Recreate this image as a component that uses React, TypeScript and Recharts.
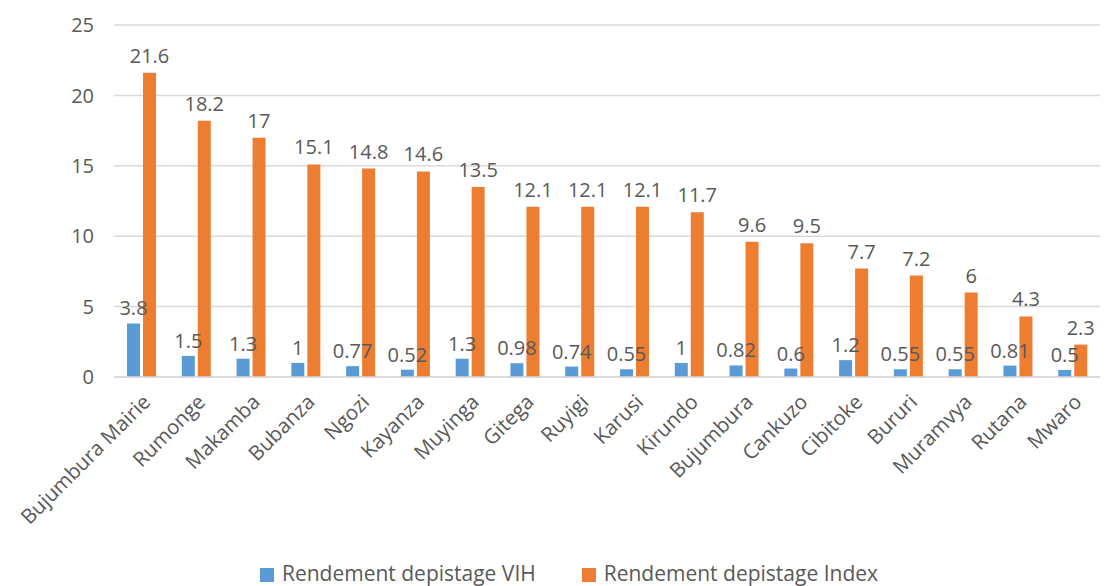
import { BarChart, Bar, XAxis, YAxis, CartesianGrid, Legend, LabelList } from "recharts";

const PROVINCES = [
  "Bujumbura Mairie", "Rumonge", "Makamba", "Bubanza", "Ngozi", "Kayanza",
  "Muyinga", "Gitega", "Ruyigi", "Karusi", "Kirundo", "Bujumbura",
  "Cankuzo", "Cibitoke", "Bururi", "Muramvya", "Rutana", "Mwaro",
];
const VIH = [3.8, 1.5, 1.3, 1, 0.77, 0.52, 1.3, 0.98, 0.74, 0.55, 1, 0.82, 0.6, 1.2, 0.55, 0.55, 0.81, 0.5];
const INDEX = [21.6, 18.2, 17, 15.1, 14.8, 14.6, 13.5, 12.1, 12.1, 12.1, 11.7, 9.6, 9.5, 7.7, 7.2, 6, 4.3, 2.3];
const Y_TICKS = [0, 5, 10, 15, 20, 25];

const data = PROVINCES.map((name, i) => ({ name, vih: VIH[i], index: INDEX[i] }));

const FONT = "'Open Sans', sans-serif";
const TEXT = "#595959";
const GRID = "#d9d9d9";

const labelStyle = { fill: TEXT, fontSize: 20, fontFamily: FONT };

export default function App() {
  return (
    <div style={{ position: "absolute", left: 0, top: 0, background: "#fff" }}>
      <BarChart
        width={1107}
        height={586}
        data={data}
        margin={{ top: 25, right: 7, bottom: 0, left: 0 }}
        barSize={13}
        barGap={3}
      >
        <CartesianGrid stroke={GRID} strokeWidth={1.5} vertical={false} />
        <XAxis
          dataKey="name"
          interval={0}
          angle={-45}
          textAnchor="end"
          height={179}
          tickLine={false}
          axisLine={{ stroke: GRID, strokeWidth: 1.5 }}
          tick={{ fill: TEXT, fontSize: 20.5, fontFamily: FONT }}
          tickMargin={10}
        />
        <YAxis
          domain={[0, 25]}
          ticks={Y_TICKS}
          width={114}
          axisLine={false}
          tickLine={false}
          tickMargin={14}
          tick={{ fill: TEXT, fontSize: 20, fontFamily: FONT }}
        />
        <Legend
          verticalAlign="bottom"
          height={30}
          iconType="square"
          iconSize={14}
          itemSorter={(item: any) => (item.dataKey === "vih" ? 0 : 1)}
          wrapperStyle={{ fontFamily: FONT, fontSize: 21, color: TEXT, bottom: -3, paddingLeft: 24 }}
          formatter={(v) => (
            <span style={{ color: TEXT, marginLeft: 4, marginRight: v.endsWith("VIH") ? 36 : 0 }}>{v}</span>
          )}
        />
        <Bar dataKey="vih" name="Rendement depistage VIH" fill="#5B9BD5" isAnimationActive={false}>
          <LabelList dataKey="vih" position="top" offset={8} style={labelStyle} />
        </Bar>
        <Bar dataKey="index" name="Rendement depistage Index" fill="#ED7D31" isAnimationActive={false}>
          <LabelList dataKey="index" position="top" offset={10} style={labelStyle} />
        </Bar>
      </BarChart>
    </div>
  );
}
